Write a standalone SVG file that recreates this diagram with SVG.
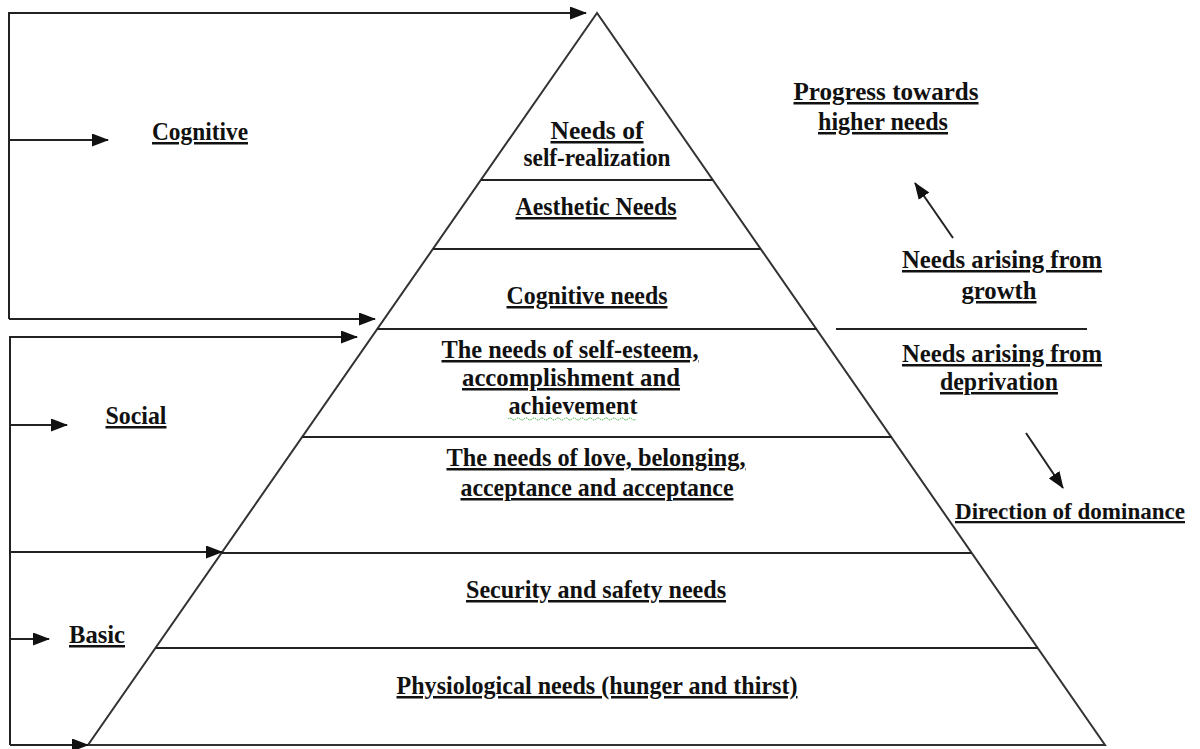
<svg xmlns="http://www.w3.org/2000/svg" width="1200" height="749" viewBox="0 0 1200 749">
<defs>
<marker id="ah" markerUnits="userSpaceOnUse" markerWidth="17" markerHeight="13" refX="16" refY="6.5" orient="auto">
<path d="M0,0 L17,6.5 L0,13 Z" fill="#111"/>
</marker>
<style>
.ln{stroke:#222;stroke-width:2;fill:none}
.pl{stroke:#333;stroke-width:2;fill:none}
.ar{stroke:#222;stroke-width:2;fill:none;marker-end:url(#ah)}
text{font-family:"Liberation Serif","Times New Roman",serif;font-weight:bold;font-size:25px;fill:#111;text-anchor:middle}
.u{text-decoration:underline}
</style>
</defs>
<rect width="1200" height="749" fill="#fff"/>
<g id="pyramid">
<polygon class="pl" points="597,13 88,745 1105,745"/>
<line class="ln" x1="481" y1="180" x2="713" y2="180"/>
<line class="ln" x1="433" y1="249" x2="761" y2="249"/>
<line class="ln" x1="377" y1="329" x2="817" y2="329"/>
<line class="ln" x1="302" y1="437" x2="892" y2="437"/>
<line class="ln" x1="222" y1="553" x2="972" y2="553"/>
<line class="ln" x1="156" y1="648" x2="1038" y2="648"/>
</g>
<g id="connectors">
<polyline class="ar" points="9,319 9,13 586,13"/>
<line class="ar" x1="9" y1="140" x2="108" y2="140"/>
<line class="ar" x1="9" y1="319" x2="375" y2="319"/>
<polyline class="ar" points="10,745 10,337 357,337"/>
<line class="ar" x1="10" y1="425" x2="67" y2="425"/>
<line class="ar" x1="10" y1="552" x2="222" y2="552"/>
<line class="ar" x1="10" y1="639" x2="49" y2="639"/>
<line class="ar" x1="10" y1="745" x2="88" y2="745"/>
<line class="ar" x1="953" y1="238" x2="915" y2="183"/>
<line class="ar" x1="1026" y1="433" x2="1063" y2="488"/>
<line class="ln" x1="836" y1="329" x2="1087" y2="329"/>
</g>
<g id="level-self-realization">
<text class="u" x="597" y="139" textLength="93" lengthAdjust="spacingAndGlyphs">Needs of</text>
<text x="597" y="166" textLength="147" lengthAdjust="spacingAndGlyphs">self-realization</text>
</g>
<g id="level-aesthetic">
<text class="u" x="596" y="215" textLength="161" lengthAdjust="spacingAndGlyphs">Aesthetic Needs</text>
</g>
<g id="level-cognitive">
<text class="u" x="587" y="304" textLength="161" lengthAdjust="spacingAndGlyphs">Cognitive needs</text>
</g>
<g id="level-esteem">
<text class="u" x="570" y="358" textLength="257" lengthAdjust="spacingAndGlyphs">The needs of self-esteem,</text>
<text class="u" x="571" y="386" textLength="218" lengthAdjust="spacingAndGlyphs">accomplishment and</text>
<text x="573" y="414" textLength="129" lengthAdjust="spacingAndGlyphs">achievement</text>
<path d="M508,419 q2,-2 4,0 t4,0 t4,0 t4,0 t4,0 t4,0 t4,0 t4,0 t4,0 t4,0 t4,0 t4,0 t4,0 t4,0 t4,0 t4,0 t4,0 t4,0 t4,0 t4,0 t4,0 t4,0 t4,0 t4,0 t4,0 t4,0 t4,0 t4,0 t4,0 t4,0 t4,0 t4,0" stroke="#3a3" stroke-width="1" fill="none" stroke-dasharray="1.5,1"/>
</g>
<g id="level-love">
<text class="u" x="596" y="466" textLength="299" lengthAdjust="spacingAndGlyphs">The needs of love, belonging,</text>
<text class="u" x="597" y="496" textLength="273" lengthAdjust="spacingAndGlyphs">acceptance and acceptance</text>
</g>
<g id="level-security">
<text class="u" x="596" y="598" textLength="260" lengthAdjust="spacingAndGlyphs">Security and safety needs</text>
</g>
<g id="level-physiological">
<text class="u" x="597" y="694" textLength="401" lengthAdjust="spacingAndGlyphs">Physiological needs (hunger and thirst)</text>
</g>
<g id="label-cognitive">
<text class="u" x="200" y="140" textLength="96" lengthAdjust="spacingAndGlyphs">Cognitive</text>
</g>
<g id="label-social">
<text class="u" x="136" y="424" textLength="61" lengthAdjust="spacingAndGlyphs">Social</text>
</g>
<g id="label-basic">
<text class="u" x="97" y="643" textLength="56" lengthAdjust="spacingAndGlyphs">Basic</text>
</g>
<g id="label-progress">
<text class="u" x="886" y="100" textLength="185" lengthAdjust="spacingAndGlyphs">Progress towards </text>
<text class="u" x="883" y="130" textLength="130" lengthAdjust="spacingAndGlyphs">higher needs</text>
</g>
<g id="label-growth">
<text class="u" x="1002" y="268" textLength="200" lengthAdjust="spacingAndGlyphs">Needs arising from</text>
<text class="u" x="999" y="299" textLength="75" lengthAdjust="spacingAndGlyphs">growth</text>
</g>
<g id="label-deprivation">
<text class="u" x="1002" y="362" textLength="200" lengthAdjust="spacingAndGlyphs">Needs arising from</text>
<text class="u" x="999" y="390" textLength="118" lengthAdjust="spacingAndGlyphs">deprivation</text>
</g>
<g id="label-dominance">
<text class="u" x="1070" y="519" style="font-size:23px" textLength="230" lengthAdjust="spacingAndGlyphs">Direction of dominance</text>
</g>
</svg>
